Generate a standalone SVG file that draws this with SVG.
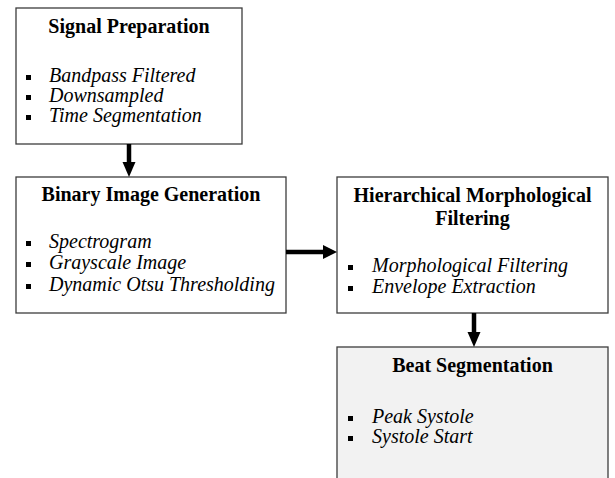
<svg xmlns="http://www.w3.org/2000/svg" width="615" height="478" viewBox="0 0 615 478">
<style>
.box{fill:#ffffff;stroke:#3c3c3c;stroke-width:1.3}
.gray{fill:#f2f2f2}
.title{font-family:'Liberation Serif','DejaVu Serif',serif;font-weight:bold;font-size:20px;fill:#000;text-anchor:middle}
.item{font-family:'Liberation Serif','DejaVu Serif',serif;font-style:italic;font-size:20px;fill:#000}
.bul{fill:#000}
.conn{stroke:#000;stroke-width:4.5;fill:none}
.head{fill:#000}
</style>
<rect width="615" height="478" fill="#ffffff"/>
<g id="signal-preparation">
<rect class="box" x="16" y="8" width="226" height="136"/>
<text class="title" x="129" y="33">Signal Preparation</text>
<rect class="bul" x="26" y="75" width="5" height="5"/>
<text class="item" x="49" y="82">Bandpass Filtered</text>
<rect class="bul" x="26" y="95" width="5" height="5"/>
<text class="item" x="49" y="102">Downsampled</text>
<rect class="bul" x="26" y="115" width="5" height="5"/>
<text class="item" x="49" y="122">Time Segmentation</text>
</g>
<g id="binary-image-generation">
<rect class="box" x="16" y="177" width="270" height="136"/>
<text class="title" x="151" y="201">Binary Image Generation</text>
<rect class="bul" x="26" y="241" width="5" height="5"/>
<text class="item" x="49" y="248">Spectrogram</text>
<rect class="bul" x="26" y="262" width="5" height="5"/>
<text class="item" x="49" y="269">Grayscale Image</text>
<rect class="bul" x="26" y="284" width="5" height="5"/>
<text class="item" x="49" y="291">Dynamic Otsu Thresholding</text>
</g>
<g id="hierarchical-morphological-filtering">
<rect class="box" x="337" y="177" width="271" height="136"/>
<text class="title" x="472.5" y="202">Hierarchical Morphological</text>
<text class="title" x="472.5" y="225">Filtering</text>
<rect class="bul" x="348" y="265" width="5" height="5"/>
<text class="item" x="372" y="272">Morphological Filtering</text>
<rect class="bul" x="348" y="286" width="5" height="5"/>
<text class="item" x="372" y="293">Envelope Extraction</text>
</g>
<g id="beat-segmentation">
<rect class="box gray" x="337" y="347" width="271" height="140"/>
<text class="title" x="472.5" y="372">Beat Segmentation</text>
<rect class="bul" x="348" y="416" width="5" height="5"/>
<text class="item" x="372" y="423">Peak Systole</text>
<rect class="bul" x="348" y="436" width="5" height="5"/>
<text class="item" x="372" y="443">Systole Start</text>
</g>
<g id="connectors">
<line class="conn" x1="129" y1="144" x2="129" y2="163"/>
<polygon class="head" points="122.5,162 135.5,162 129,177"/>
<line class="conn" x1="286" y1="252" x2="324" y2="252"/>
<polygon class="head" points="323,245 323,259 337,252"/>
<line class="conn" x1="474" y1="313" x2="474" y2="333"/>
<polygon class="head" points="467.5,332 480.5,332 474,347"/>
</g>
</svg>
